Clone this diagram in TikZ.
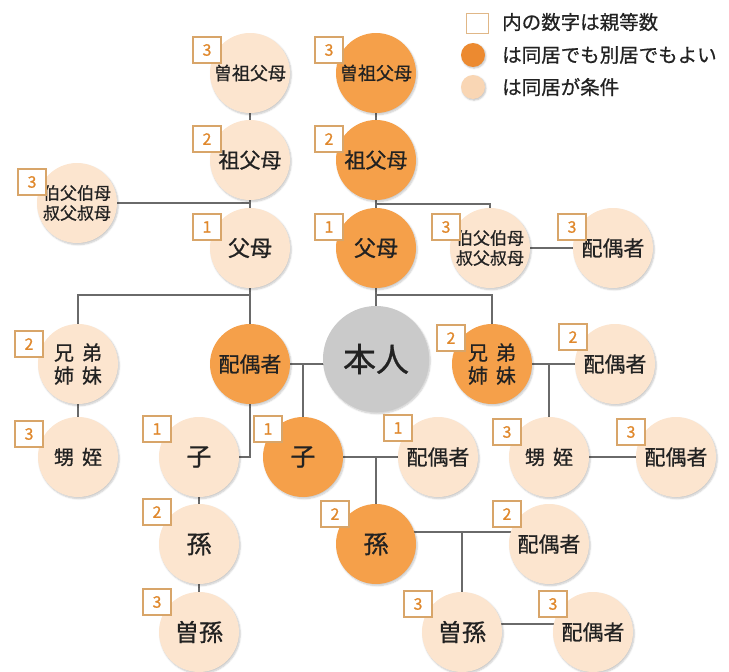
\documentclass[tikz,border=0pt]{standalone}
\usepackage{fontspec}
\newfontfamily\jp[FakeBold=0.7]{Noto Sans CJK JP}
\usetikzlibrary{calc,backgrounds,shadows.blur}
\definecolor{peach}{HTML}{FCE5CF}
\definecolor{orng}{HTML}{F5A04A}
\definecolor{selfgray}{HTML}{CACACA}
\definecolor{linegray}{HTML}{6A6A6A}
\definecolor{badgeedge}{HTML}{D8A569}
\definecolor{badgetext}{HTML}{E0882C}
\definecolor{ink}{HTML}{222222}
\definecolor{legor}{HTML}{EC8A30}
\definecolor{leglt}{HTML}{F9D6B4}
\begin{document}
\begin{tikzpicture}[x=1pt,y=-1pt,
  person/.style={circle, minimum size=80pt, inner sep=0pt, text=ink, align=center,
    blur shadow={shadow xshift=1.2pt, shadow yshift=-1.6pt, shadow blur steps=6, shadow opacity=22}},
  lt/.style={person, fill=peach},
  og/.style={person, fill=orng},
  badge/.style={rectangle, draw=badgeedge, line width=1.1pt, fill=white,
    minimum width=28pt, minimum height=26pt, inner sep=0pt, text=badgetext,
    font=\jp\fontsize{16}{16}\selectfont},
  link/.style={draw=linegray, line width=2.5pt},
  fa/.style={font=\jp\fontsize{17}{20}\selectfont},
  fb/.style={font=\jp\fontsize{18}{20}\selectfont},
  fc/.style={font=\jp\fontsize{20}{23}\selectfont},
  fd/.style={font=\jp\fontsize{21}{24}\selectfont},
  fe/.style={font=\jp\fontsize{22}{24}\selectfont},
  ff/.style={font=\jp\fontsize{24}{26}\selectfont},
  fg/.style={font=\jp\fontsize{25}{26}\selectfont},
  fself/.style={font=\jp\fontsize{33}{34}\selectfont},
  legtext/.style={anchor=west, text=ink, font=\jp\fontsize{19.5}{21}\selectfont, inner sep=0pt}
]
\useasboundingbox (0,0) rectangle (729,672);

% legend
\node[rectangle, draw=badgeedge!80, line width=0.8pt, fill=white, minimum width=22pt, minimum height=20pt, inner sep=0pt] (legbox) at (477,23) {};
\node[circle, fill=legor, minimum size=24pt, inner sep=0pt, blur shadow={shadow xshift=1pt, shadow yshift=-1.2pt, shadow opacity=25}] (legdot1) at (473,55) {};
\node[circle, fill=leglt, minimum size=24pt, inner sep=0pt, blur shadow={shadow xshift=1pt, shadow yshift=-1.2pt, shadow opacity=25}] (legdot2) at (473,87) {};
\node[legtext] (legt1) at (502,22) {内の数字は親等数};
\node[legtext] (legt2) at (502,55) {は同居でも別居でもよい};
\node[legtext] (legt3) at (502,87) {は同居が条件};

% people
\node[lt,fb] (ggL) at (250,73) {曽祖父母};
\node[og,fb] (ggR) at (376,73) {曽祖父母};
\node[lt,fd] (gpL) at (250,160) {祖父母};
\node[og,fd] (gpR) at (376,160) {祖父母};
\node[lt,fe] (pL) at (250,248) {父母};
\node[og,fe] (pR) at (376,248) {父母};
\node[lt,fa] (uncL) at (77,203) {伯父伯母\\叔父叔母};
\node[lt,fa] (uncR) at (490,248) {伯父伯母\\叔父叔母};
\node[lt,fd] (uncRsp) at (613,248) {配偶者};
\node[lt,fc] (sibL) at (78,364) {兄\hspace{0.4em}弟\\姉\hspace{0.4em}妹};
\node[og,fd] (spouse) at (250,364) {配偶者};
\node[person, fill=selfgray, minimum size=106pt, fself] (self) at (376,359) {本人};
\node[og,fc] (sibR) at (492,364) {兄\hspace{0.4em}弟\\姉\hspace{0.4em}妹};
\node[lt,fd] (sibRsp) at (615,364) {配偶者};
\node[lt,fc] (nnL) at (78,457) {甥\hspace{0.4em}姪};
\node[lt,fg] (chL) at (199,457) {子};
\node[og,fg] (chR) at (303,457) {子};
\node[lt,fd] (chRsp) at (438,457) {配偶者};
\node[lt,fc] (nnR) at (549,457) {甥\hspace{0.4em}姪};
\node[lt,fd] (nnRsp) at (676,457) {配偶者};
\node[lt,fg] (gcL) at (199,544) {孫};
\node[og,fg] (gcR) at (376,544) {孫};
\node[lt,fd] (gcRsp) at (549,544) {配偶者};
\node[lt,ff] (ggcL) at (199,632) {曽孫};
\node[lt,ff] (ggcR) at (462,632) {曽孫};
\node[lt,fd] (ggcRsp) at (593,632) {配偶者};

% degree badges
\node[badge] (bggL) at (207,50) {3};
\node[badge] (bggR) at (329,50) {3};
\node[badge] (bgpL) at (207,139) {2};
\node[badge] (bgpR) at (329,139) {2};
\node[badge] (bpL) at (207,227) {1};
\node[badge] (bpR) at (329,227) {1};
\node[badge] (buncL) at (32,182) {3};
\node[badge] (buncR) at (446,227) {3};
\node[badge] (buncRsp) at (572,227) {3};
\node[badge] (bsibL) at (29,344) {2};
\node[badge] (bsibR) at (451,338) {2};
\node[badge] (bsibRsp) at (573,337) {2};
\node[badge] (bnnL) at (29,434) {3};
\node[badge] (bchL) at (157,429) {1};
\node[badge] (bchR) at (268,429) {1};
\node[badge] (bchRsp) at (398,428) {1};
\node[badge] (bnnR) at (507,432) {3};
\node[badge] (bnnRsp) at (631,432) {3};
\node[badge] (bgcL) at (157,512) {2};
\node[badge] (bgcR) at (335,514) {2};
\node[badge] (bgcRsp) at (507,514) {2};
\node[badge] (bggcL) at (157,602) {3};
\node[badge] (bggcR) at (418,604) {3};
\node[badge] (bggcRsp) at (553,604) {3};

% connectors
\begin{scope}[on background layer]
\draw[link] (ggL) -- (gpL) -- (pL) -- (spouse);
\draw[link] (uncL) -- (uncL -| gpL);
\draw[link] (ggR) -- (gpR) -- (pR) -- (self);
\coordinate (jR1) at ($(gpR)!0.5!(pR)$);
\draw[link] (jR1) -| (uncR);
\draw[link] (uncR) -- (uncRsp);
\coordinate (jL2) at ($(pL)+(0,47)$);
\draw[link] (jL2) -| (sibL);
\coordinate (jR2) at ($(pR)+(0,47)$);
\draw[link] (jR2) -| (sibR);
\draw[link] (spouse) -- (spouse -| self);
\draw[link] (chR) -- (chR |- spouse);
\draw[link] (spouse) |- (chL);
\draw[link] (chL) -- (gcL) -- (ggcL);
\draw[link] (sibL) -- (nnL);
\draw[link] (sibR) -- (sibRsp);
\draw[link] (nnR) -- (nnR |- sibR);
\draw[link] (nnR) -- (nnRsp);
\draw[link] (chR) -- (chRsp);
\draw[link] (gcR) -- (gcR |- chR);
\coordinate (jG) at ($(gcR)+(0,-12)$);
\draw[link] (jG) -- (jG -| gcRsp);
\draw[link] (ggcR) -- (ggcR |- jG);
\coordinate (jH) at ($(ggcR)+(0,-8)$);
\draw[link] (jH) -- (jH -| ggcRsp);
\end{scope}
\end{tikzpicture}
\end{document}
